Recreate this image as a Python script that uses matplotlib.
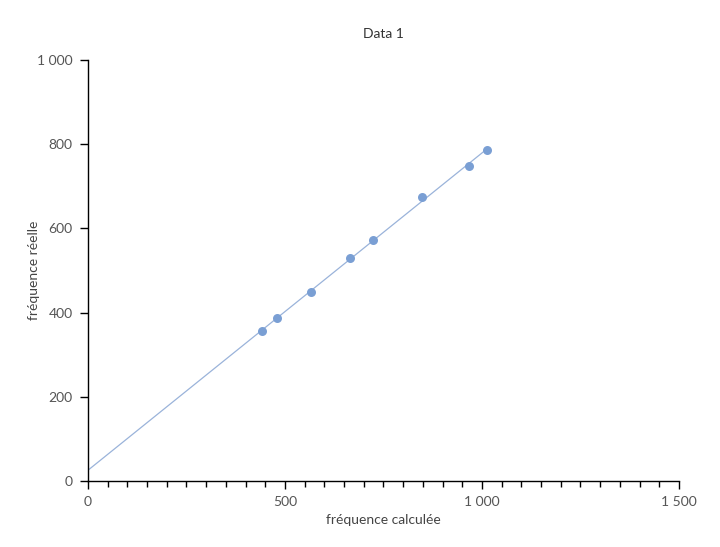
import numpy as np
import matplotlib.pyplot as plt
from matplotlib.ticker import FuncFormatter, MultipleLocator

plt.rcParams['font.family'] = ['Lato', 'DejaVu Sans']

freq_calc = np.array([442, 480, 566, 665, 723, 848, 967, 1013])
freq_real = np.array([356, 387, 449, 530, 572, 675, 748, 786])

title = "Data 1"
x_label = "fréquence calculée"
y_label = "fréquence réelle"

def sep(v, pos):
    return "{:,}".format(int(v)).replace(",", " ")

fig = plt.figure(figsize=(7.2, 5.47), dpi=100)
ax = fig.add_axes([0.1222, 0.1207, 0.8208, 0.7696])

# fit line from 0 to the largest x
a, b = np.polyfit(freq_calc, freq_real, 1)
xx = np.array([0, freq_calc.max()])
ax.plot(xx, a * xx + b, color='#9ab3da', lw=0.9, zorder=2)
ax.scatter(freq_calc, freq_real, s=42, color='#7a9fd4', zorder=3, linewidths=0)

ax.set_xlim(0, 1500)
ax.set_ylim(0, 1000)
ax.xaxis.set_major_locator(MultipleLocator(500))
ax.xaxis.set_minor_locator(MultipleLocator(50))
ax.yaxis.set_major_locator(MultipleLocator(200))
ax.xaxis.set_major_formatter(FuncFormatter(sep))
ax.yaxis.set_major_formatter(FuncFormatter(sep))

for s in ['top', 'right']:
    ax.spines[s].set_visible(False)
for s in ['left', 'bottom']:
    ax.spines[s].set_linewidth(1.0)

ax.tick_params(which='major', length=6, width=1, labelsize=10, labelcolor='#555555', pad=5)
ax.tick_params(which='minor', length=4, width=1)

ax.set_title(title, fontsize=10, color='#333333', pad=16)
ax.set_xlabel(x_label, fontsize=10, color='#444444', labelpad=4)
ax.set_ylabel(y_label, fontsize=10, color='#444444', labelpad=-2)

fig.savefig("out.png", dpi=100)
